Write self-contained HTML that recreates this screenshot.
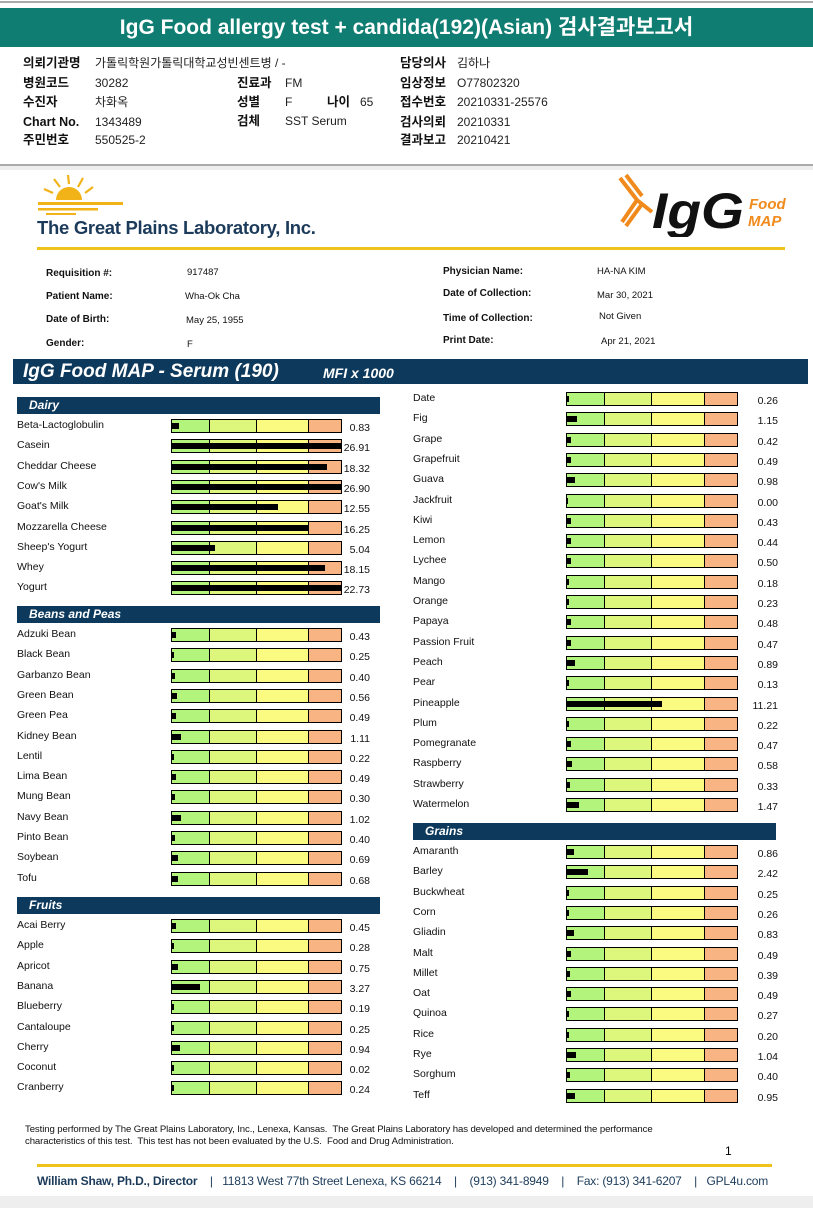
<!DOCTYPE html>
<html><head><meta charset="utf-8">
<style>
body{margin:0;width:813px;height:1208px;position:relative;background:#fff;font-family:"Liberation Sans","Noto Sans CJK KR",sans-serif;overflow:hidden}
.a{position:absolute;white-space:nowrap}
.k{font-size:12.5px;font-weight:bold;color:#111;line-height:16px}
.v{font-size:12px;color:#222;line-height:16px}
.pl{font-size:10px;font-weight:bold;color:#111}
.pv{font-size:9.5px;color:#111}
.sec{position:absolute;background:#0d3a5c;color:#fff;font-weight:bold;font-style:italic;font-size:12px;height:17px;line-height:17px;padding-left:12px;box-sizing:border-box}
.lab{font-size:10.5px;color:#111}
.val{font-size:10.5px;color:#111;text-align:right;width:50px}
</style></head><body>
<div class="a" style="left:0;top:1px;width:813px;height:2px;background:#aaa"></div>
<div class="a" style="left:0;top:8px;width:813px;height:39px;background:#0f7d72;color:#fff;font-size:21px;font-weight:bold;line-height:39px;text-align:center">IgG Food allergy test + candida(192)(Asian) 검사결과보고서</div>

<div class="a k" style="left:23px;top:55px">의뢰기관명</div><div class="a v" style="left:95px;top:55px">가톨릭학원가톨릭대학교성빈센트병 / -</div>
<div class="a k" style="left:23px;top:75px">병원코드</div><div class="a v" style="left:95px;top:75px">30282</div>
<div class="a k" style="left:23px;top:94px">수진자</div><div class="a v" style="left:95px;top:94px">차화옥</div>
<div class="a k" style="left:23px;top:114px">Chart No.</div><div class="a v" style="left:95px;top:114px">1343489</div>
<div class="a k" style="left:23px;top:132px">주민번호</div><div class="a v" style="left:95px;top:132px">550525-2</div>
<div class="a k" style="left:237px;top:75px">진료과</div><div class="a v" style="left:285px;top:75px">FM</div>
<div class="a k" style="left:237px;top:94px">성별</div><div class="a v" style="left:285px;top:94px">F</div>
<div class="a k" style="left:327px;top:94px">나이</div><div class="a v" style="left:360px;top:94px">65</div>
<div class="a k" style="left:237px;top:113px">검체</div><div class="a v" style="left:285px;top:113px">SST Serum</div>
<div class="a k" style="left:400px;top:55px">담당의사</div><div class="a v" style="left:457px;top:55px">김하나</div>
<div class="a k" style="left:400px;top:75px">임상정보</div><div class="a v" style="left:457px;top:75px">O77802320</div>
<div class="a k" style="left:400px;top:94px">접수번호</div><div class="a v" style="left:457px;top:94px">20210331-25576</div>
<div class="a k" style="left:400px;top:114px">검사의뢰</div><div class="a v" style="left:457px;top:114px">20210331</div>
<div class="a k" style="left:400px;top:132px">결과보고</div><div class="a v" style="left:457px;top:132px">20210421</div>
<div class="a" style="left:0;top:164px;width:813px;height:2px;background:#aaa"></div>
<div class="a" style="left:0;top:166px;width:813px;height:4px;background:#eee"></div>

<svg class="a" style="left:36px;top:173px" width="90" height="45" viewBox="0 0 90 45">
<path d="M20 27 A13 13 0 0 1 46 27 Z" fill="#f2b319"/>
<g stroke="#f2b319" stroke-width="2.2" fill="none"><path d="M33 11 L32 2"/><path d="M24 14 L18 6"/><path d="M42 14 L47 5"/><path d="M17 20 L8 16"/><path d="M49 20 L57 14"/></g>
<rect x="2" y="29" width="85" height="3" fill="#f2b319"/><rect x="2" y="35" width="60" height="2.5" fill="#f2b319"/><rect x="10" y="40" width="30" height="2" fill="#f2b319"/></svg>
<div class="a" style="left:37px;top:217px;font-size:18.5px;font-weight:bold;color:#1c3b5a;letter-spacing:-0.3px">The Great Plains Laboratory, Inc.</div>
<svg class="a" style="left:612px;top:172px" width="180" height="65">
<g stroke="#f08a1c" stroke-width="4" fill="none"><path d="M8 6 L25 28 L40 40"/><path d="M14 3 L30 24"/><path d="M25 28 L10 50"/><path d="M30 32 L14 54"/></g>
<text x="40" y="56" font-family="Liberation Sans" font-size="50" font-weight="bold" font-style="italic" fill="#111" textLength="92" lengthAdjust="spacingAndGlyphs">IgG</text>
<text x="137" y="37" font-family="Liberation Sans" font-size="15" font-weight="bold" font-style="italic" fill="#f08a1c">Food</text>
<text x="136" y="54" font-family="Liberation Sans" font-size="15" font-weight="bold" font-style="italic" fill="#f08a1c">MAP</text></svg>
<div class="a" style="left:37px;top:247px;width:748px;height:3px;background:#f0c21c"></div>

<div class="a pl" style="left:46px;top:268px">Requisition #:</div><div class="a pv" style="left:187px;top:267px">917487</div>
<div class="a pl" style="left:46px;top:291px">Patient Name:</div><div class="a pv" style="left:185px;top:291px">Wha-Ok Cha</div>
<div class="a pl" style="left:46px;top:314px">Date of Birth:</div><div class="a pv" style="left:186px;top:315px">May 25, 1955</div>
<div class="a pl" style="left:46px;top:338px">Gender:</div><div class="a pv" style="left:187px;top:339px">F</div>
<div class="a pl" style="left:443px;top:266px">Physician Name:</div><div class="a pv" style="left:597px;top:266px">HA-NA KIM</div>
<div class="a pl" style="left:443px;top:288px">Date of Collection:</div><div class="a pv" style="left:597px;top:290px">Mar 30, 2021</div>
<div class="a pl" style="left:443px;top:313px">Time of Collection:</div><div class="a pv" style="left:599px;top:311px">Not Given</div>
<div class="a pl" style="left:443px;top:335px">Print Date:</div><div class="a pv" style="left:601px;top:336px">Apr 21, 2021</div>

<div class="a" style="left:13px;top:359px;width:795px;height:25px;background:#0d3a5c"></div>
<div class="a" style="left:23px;top:361px;color:#fff;font-size:19px;font-weight:bold;font-style:italic">IgG Food MAP - Serum (190)</div>
<div class="a" style="left:323px;top:365px;color:#fff;font-size:14px;font-weight:bold;font-style:italic">MFI x 1000</div>

<div id="chart"></div>

<div class="a" style="left:25px;top:1124px;font-size:9.6px;line-height:12px;color:#111;letter-spacing:-0.1px">Testing performed by The Great Plains Laboratory, Inc., Lenexa, Kansas.&nbsp; The Great Plains Laboratory has developed and determined the performance<br>characteristics of this test.&nbsp; This test has not been evaluated by the U.S.&nbsp; Food and Drug Administration.</div>
<div class="a" style="left:725px;top:1144px;font-size:12px">1</div>
<div class="a" style="left:37px;top:1164px;width:735px;height:3px;background:#f0c21c"></div>
<div class="a" style="left:37px;top:1174px;font-size:12px;color:#1c3b5a;letter-spacing:-0.2px"><b>William Shaw, Ph.D., Director</b> &nbsp; &nbsp;| &nbsp; 11813 West 77th Street Lenexa, KS 66214 &nbsp; &nbsp;| &nbsp; &nbsp;(913) 341-8949 &nbsp; &nbsp;| &nbsp; &nbsp;Fax: (913) 341-6207 &nbsp; &nbsp;| &nbsp; GPL4u.com</div>
<div class="a" style="left:0;top:1196px;width:813px;height:12px;background:#eee"></div>

<script>
const dairyNames=["Beta-Lactoglobulin","Casein","Cheddar Cheese","Cow's Milk","Goat's Milk","Mozzarella Cheese","Sheep's Yogurt","Whey","Yogurt"];
const dairyValues=[0.83,26.91,18.32,26.90,12.55,16.25,5.04,18.15,22.73];
const beanNames=["Adzuki Bean","Black Bean","Garbanzo Bean","Green Bean","Green Pea","Kidney Bean","Lentil","Lima Bean","Mung Bean","Navy Bean","Pinto Bean","Soybean","Tofu"];
const beanValues=[0.43,0.25,0.40,0.56,0.49,1.11,0.22,0.49,0.30,1.02,0.40,0.69,0.68];
const fruitNames=["Acai Berry","Apple","Apricot","Banana","Blueberry","Cantaloupe","Cherry","Coconut","Cranberry","Date","Fig","Grape","Grapefruit","Guava","Jackfruit","Kiwi","Lemon","Lychee","Mango","Orange","Papaya","Passion Fruit","Peach","Pear","Pineapple","Plum","Pomegranate","Raspberry","Strawberry","Watermelon"];
const fruitValues=[0.45,0.28,0.75,3.27,0.19,0.25,0.94,0.02,0.24,0.26,1.15,0.42,0.49,0.98,0.00,0.43,0.44,0.50,0.18,0.23,0.48,0.47,0.89,0.13,11.21,0.22,0.47,0.58,0.33,1.47];
const grainNames=["Amaranth","Barley","Buckwheat","Corn","Gliadin","Malt","Millet","Oat","Quinoa","Rice","Rye","Sorghum","Teff"];
const grainValues=[0.86,2.42,0.25,0.26,0.83,0.49,0.39,0.49,0.27,0.20,1.04,0.40,0.95];
const axisMax=20;
const zoneBreaks=[4.3,9.8,15.9];

const root=document.getElementById('chart');
const ROW=20.3;
function xScale(v,w){return Math.min(v,axisMax)/axisMax*w;}
function add(html){const t=document.createElement('template');t.innerHTML=html.trim();const el=t.content.firstChild;root.appendChild(el);return el;}
function header(text,x,y,w,name){
  const el=add(`<div class="sec" style="left:${x}px;top:${y}px;width:${w}px">${text}</div>`);
  
  
}
function row(name,val,col,y){
  const lx=col?413:17, bx=col?566:171, bw=col?172:171, vx=col?728:320;
  const slug=name.toLowerCase().replace(/[^a-z]+/g,'-');
  const l=add(`<div class="a lab" style="left:${lx}px;top:${y-7}px">${name}</div>`);
  
  
  const z=[0,...zoneBreaks,axisMax].map(v=>xScale(v,bw));
  const cols=['#b2f47c','#ddf77c','#fbfb82','#f8b482'];
  let segs='';
  for(let i=0;i<4;i++)segs+=`<div style="position:absolute;left:${z[i]}px;top:0;width:${z[i+1]-z[i]}px;height:100%;background:${cols[i]};${i>0?'border-left:1px solid #000;':''}"></div>`;
  const bar=add(`<div class="a" style="left:${bx}px;top:${y-7}px;width:${bw}px;height:14px;border:1px solid #000;box-sizing:border-box;overflow:hidden">${segs}</div>`);
  
  
  const w=Math.max(xScale(val,bw-2),val>0?2:1);
  const m=document.createElement('div');
  m.style.cssText=`position:absolute;left:0;top:3px;width:${w}px;height:6px;background:#000`;
  
  
  bar.appendChild(m);
  const v=add(`<div class="a val" style="left:${vx}px;top:${y-4}px">${val.toFixed(2)}</div>`);
  
  
}
header('Dairy',17,397,363,'section-dairy');
dairyNames.forEach((n,i)=>row(n,dairyValues[i],0,426+i*ROW));
header('Beans and Peas',17,606,363,'section-beans-and-peas');
beanNames.forEach((n,i)=>row(n,beanValues[i],0,635+i*ROW));
header('Fruits',17,897,363,'section-fruits');
fruitNames.forEach((n,i)=>{ if(i<9) row(n,fruitValues[i],0,926+i*ROW); else row(n,fruitValues[i],1,399+(i-9)*ROW); });
header('Grains',413,823,363,'section-grains');
grainNames.forEach((n,i)=>row(n,grainValues[i],1,852+i*ROW));
</script>
</body></html>
